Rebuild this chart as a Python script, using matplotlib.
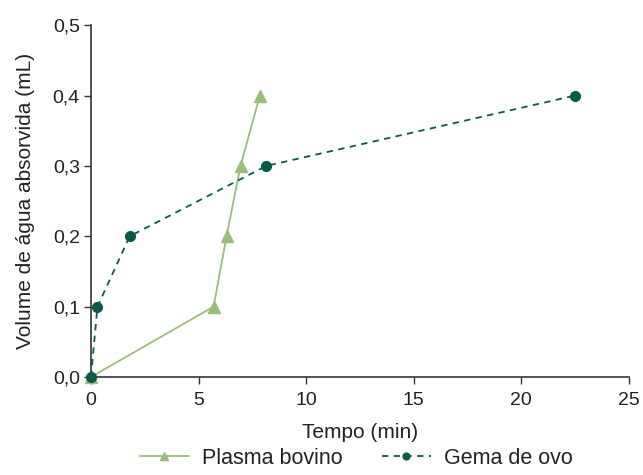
import matplotlib
matplotlib.use("Agg")
import matplotlib.pyplot as plt
from matplotlib.ticker import FuncFormatter

plt.rcParams['font.family'] = ['Liberation Sans', 'DejaVu Sans']

# dados
plasma_t = [0, 5.7, 6.3, 6.95, 7.85]
plasma_v = [0.0, 0.1, 0.2, 0.3, 0.4]
gema_t = [0, 0.3, 1.8, 8.15, 22.5]
gema_v = [0.0, 0.1, 0.2, 0.3, 0.4]

x_ticks = [0, 5, 10, 15, 20, 25]
y_ticks = [0.0, 0.1, 0.2, 0.3, 0.4, 0.5]

verde_claro = '#9bbd7a'
verde_escuro = '#0b5a48'

fig = plt.figure(figsize=(6.43, 4.75), dpi=100)
ax = fig.add_axes([0.1415, 0.2063, 0.8365, 0.7407])

ax.plot(plasma_t, plasma_v, color=verde_claro, lw=1.3, marker='^', ms=8,
        label='Plasma bovino', clip_on=False, zorder=3)
ax.plot(gema_t, gema_v, color=verde_escuro, lw=1.3, ls=(0, (3.5, 3)), marker='o', ms=7,
        label='Gema de ovo', clip_on=False, zorder=4)

ax.set_xlim(0, 25)
ax.set_ylim(0, 0.5)
ax.set_xticks(x_ticks)
ax.set_yticks(y_ticks)
ax.yaxis.set_major_formatter(FuncFormatter(lambda v, p: f'{v:.1f}'.replace('.', ',')))

for s in ['top', 'right']:
    ax.spines[s].set_visible(False)
for s in ['left', 'bottom']:
    ax.spines[s].set_color('#333333')
    ax.spines[s].set_linewidth(1.2)
ax.tick_params(direction='out', length=5, width=1, colors='#333333',
               labelsize=14, labelcolor='#222222')
ax.tick_params(axis='x', pad=6)
ax.tick_params(axis='y', pad=3)

ax.set_xlabel('Tempo (min)', fontsize=15, color='#222222', labelpad=10)
ax.set_ylabel('Volume de água absorvida (mL)', fontsize=15, color='#222222', labelpad=13)

leg = fig.legend(loc='lower center', bbox_to_anchor=(0.554, -0.028), ncol=2, frameon=False,
                 fontsize=15.5, handlelength=2.3, columnspacing=1.8, handletextpad=0.6,
                 markerscale=0.7)
for t in leg.get_texts():
    t.set_color('#222222')

fig.savefig('out.png', dpi=100)
